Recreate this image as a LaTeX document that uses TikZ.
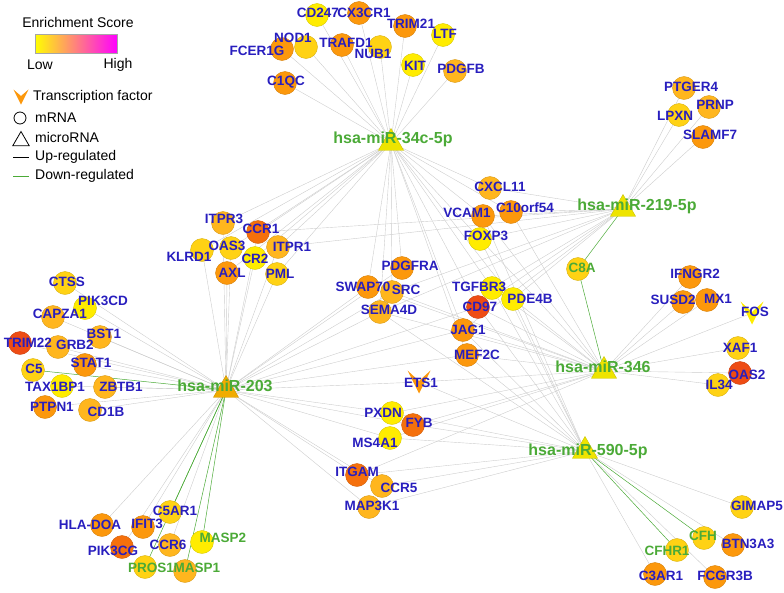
\documentclass[tikz,border=0pt]{standalone}
\usepackage{fontspec}
\setmainfont{Liberation Sans}
\definecolor{netblue}{RGB}{40,30,190}
\definecolor{netgreen}{RGB}{75,170,55}
\definecolor{netgray}{RGB}{205,205,205}
\definecolor{miryellow}{RGB}{238,228,0}
\definecolor{mirgold}{RGB}{240,172,0}
\definecolor{esyellow}{RGB}{255,236,0}
\definecolor{esgold}{RGB}{255,210,20}
\definecolor{eslight}{RGB}{255,182,30}
\definecolor{esorange}{RGB}{252,152,12}
\definecolor{esdark}{RGB}{245,112,12}
\definecolor{esred}{RGB}{238,76,20}
\usetikzlibrary{shapes.geometric,backgrounds,calc}

\begin{document}
\begin{tikzpicture}[x=1pt, y=-1pt,
    gene/.style={circle, minimum size=23pt, inner sep=0pt, fill=#1, draw=#1!85!black, line width=0.4pt},
    mirna/.style={regular polygon, regular polygon sides=3, minimum size=29pt, inner sep=0pt,
      fill=#1, draw=#1!85!black, line width=0.4pt},
    tfac/.style={minimum size=23pt, inner sep=0pt,
      path picture={\fill[#1] (path picture bounding box.north west)
        -- ($(path picture bounding box.center)+(0,-1)$) -- (path picture bounding box.north east)
        -- (path picture bounding box.south) -- cycle;}},
    gname/.style={font=\bfseries\fontsize{13.5}{14}\selectfont, text=netblue, inner sep=0pt},
    gdown/.style={gname, text=netgreen},
    mname/.style={font=\bfseries\fontsize{16}{17}\selectfont, text=netgreen, inner sep=0pt},
    legtext/.style={font=\fontsize{14}{15}\selectfont, anchor=west, inner sep=0pt},
    edge/.style={netgray, line width=0.4pt},
    downedge/.style={netgreen, line width=0.5pt}
  ]
    \useasboundingbox (0,0) rectangle (784,592);

    % Legend
    \node[legtext, anchor=center] (lscore) at (78,22) {Enrichment Score};
    \node[minimum width=82pt, minimum height=19pt, inner sep=0pt, left color=yellow, right color=magenta,
      draw=gray!70] (lbar) at (76,43.5) {};
    \node[legtext, anchor=center] (llow) at (40,65) {Low};
    \node[legtext, anchor=center] (lhigh) at (118,65) {High};
    \node[tfac=esorange, minimum size=15pt] (ltf) at (21,97) {};
    \node[legtext] (ltftext) at (33,97) {Transcription factor};
    \node[circle, draw, thick, minimum size=12pt, inner sep=0pt] (lmrna) at (20,118) {};
    \node[legtext] (lmrnatext) at (35,118) {mRNA};
    \node[regular polygon, regular polygon sides=3, draw, thick, minimum size=19pt, inner sep=0pt] (lmir) at (21,141) {};
    \node[legtext] (lmirtext) at (35,137) {microRNA};
    \node[legtext] (luptext) at (35,157) {Up-regulated};
    \draw[thick] ([xshift=-22]luptext.west) -- ([xshift=-6]luptext.west);
    \node[legtext] (ldowntext) at (35,176) {Down-regulated};
    \draw[thick, netgreen] ([xshift=-22]ldowntext.west) -- ([xshift=-6]ldowntext.west);

    % microRNAs
    \node[mirna=miryellow] (m34) at (391,143) {};
    \node[mirna=miryellow] (m219) at (623,209) {};
    \node[mirna=mirgold] (m203) at (226,390) {};
    \node[mirna=miryellow] (m346) at (604,371) {};
    \node[mirna=miryellow] (m590) at (585,451) {};

    % Top cluster
    \node[gene=esyellow] (cd247) at (317,15) {};
    \node[gene=esorange] (cx3cr1) at (359,13) {};
    \node[gene=esorange] (trim21) at (405,26) {};
    \node[gene=esyellow] (ltf) at (443,35) {};
    \node[gene=esorange] (fcer1g) at (282,49) {};
    \node[gene=esgold] (nod1) at (306,47) {};
    \node[gene=esorange] (trafd1) at (342,45) {};
    \node[gene=esgold] (nub1) at (380,47) {};
    \node[gene=esyellow] (kit) at (413,65) {};
    \node[gene=eslight] (pdgfb) at (455,71) {};
    \node[gene=esorange] (c1qc) at (285,83) {};

    % Upper right cluster
    \node[gene=eslight] (ptger4) at (684,88) {};
    \node[gene=eslight] (prnp) at (709,107) {};
    \node[gene=esgold] (lpxn) at (679,115) {};
    \node[gene=esorange] (slamf7) at (703,137) {};

    % Centre cluster
    \node[gene=eslight] (cxcl11) at (490,188) {};
    \node[gene=esorange] (c10orf54) at (511,212) {};
    \node[gene=esorange] (vcam1) at (483,216) {};
    \node[gene=esyellow] (foxp3) at (480,239) {};
    \node[gene=esyellow] (tgfbr3) at (492,288) {};
    \node[gene=esyellow] (pde4b) at (513,299) {};
    \node[gene=esred] (cd97) at (478,307) {};
    \node[gene=esorange] (jag1) at (463,330) {};
    \node[gene=esorange] (mef2c) at (467,355) {};
    \node[gene=esorange] (pdgfra) at (402,268) {};
    \node[gene=esorange] (swap70) at (368,287) {};
    \node[gene=eslight] (src) at (392,292) {};
    \node[gene=eslight] (sema4d) at (380,312) {};

    % Left middle cluster
    \node[gene=eslight] (itpr3) at (223,223) {};
    \node[gene=esdark] (ccr1) at (258,232) {};
    \node[gene=eslight] (itpr1) at (278,247) {};
    \node[gene=esgold] (klrd1) at (202,250) {};
    \node[gene=esgold] (oas3) at (231,248) {};
    \node[gene=esyellow] (cr2) at (255,258) {};
    \node[gene=esorange] (axl) at (227,273) {};
    \node[gene=esgold] (pml) at (277,274) {};

    % Far left cluster
    \node[gene=esgold] (ctss) at (65,283) {};
    \node[gene=esyellow] (pik3cd) at (85,308) {};
    \node[gene=eslight] (capza1) at (53,317) {};
    \node[gene=esred] (trim22) at (20,343) {};
    \node[gene=eslight] (bst1) at (100,337) {};
    \node[gene=eslight] (grb2) at (58,347) {};
    \node[gene=esorange] (stat1) at (85,365) {};
    \node[gene=esgold] (c5) at (33,370) {};
    \node[gene=esyellow] (tax1bp1) at (62,386) {};
    \node[gene=eslight] (zbtb1) at (105,387) {};
    \node[gene=esorange] (ptpn1) at (45,407) {};
    \node[gene=eslight] (cd1b) at (90,410) {};

    % Right cluster
    \node[gene=esgold] (c8a) at (578,269) {};
    \node[gene=esorange] (ifngr2) at (690,277) {};
    \node[gene=esorange] (susd2) at (683,302) {};
    \node[gene=esorange] (mx1) at (707,300) {};
    \node[tfac=esyellow] (fos) at (752,313) {};
    \node[gene=esgold] (xaf1) at (738,348) {};
    \node[gene=esred] (oas2) at (740,373) {};
    \node[gene=esgold] (il34) at (718,385) {};

    % Lower middle cluster
    \node[tfac=esorange] (ets1) at (419,382) {};
    \node[gene=esyellow] (pxdn) at (392,413) {};
    \node[gene=esdark] (fyb) at (413,425) {};
    \node[gene=esyellow] (ms4a1) at (390,438) {};
    \node[gene=esdark] (itgam) at (357,475) {};
    \node[gene=eslight] (ccr5) at (382,486) {};
    \node[gene=eslight] (map3k1) at (369,507) {};

    % Bottom left cluster
    \node[gene=esorange] (hladoa) at (102,525) {};
    \node[gene=esorange] (ifit3) at (143,527) {};
    \node[gene=esgold] (c5ar1) at (170,512) {};
    \node[gene=esdark] (pik3cg) at (122,547) {};
    \node[gene=eslight] (ccr6) at (170,545) {};
    \node[gene=esyellow] (masp2) at (202,542) {};
    \node[gene=esgold] (pros1) at (145,567) {};
    \node[gene=eslight] (masp1) at (185,571) {};

    % Bottom right cluster
    \node[gene=esgold] (gimap5) at (742,507) {};
    \node[gene=esgold] (cfh) at (704,538) {};
    \node[gene=esorange] (btn3a3) at (733,545) {};
    \node[gene=esgold] (cfhr1) at (677,550) {};
    \node[gene=esorange] (c3ar1) at (655,574) {};
    \node[gene=esorange] (fcgr3b) at (715,577) {};

    % Interactions
    \begin{scope}[on background layer]
      \foreach \g in {cd247,cx3cr1,trim21,ltf,nod1,fcer1g,trafd1,nub1,kit,pdgfb,c1qc,
          itpr3,ccr1,itpr1,oas3,klrd1,cr2,axl,pml,pdgfra,swap70,src,sema4d,
          cxcl11,vcam1,c10orf54,foxp3,tgfbr3,pde4b,cd97,jag1,mef2c}
        \draw[edge] (m34.center) -- (\g.center);
      \foreach \g in {ctss,pik3cd,capza1,trim22,grb2,bst1,stat1,tax1bp1,zbtb1,ptpn1,cd1b,
          klrd1,itpr3,oas3,axl,cr2,pml,ccr1,itpr1,hladoa,ifit3,pik3cg,ccr6,
          pdgfra,swap70,src,sema4d,cd97,jag1,mef2c,ets1,pxdn,fyb,ms4a1,itgam,ccr5,map3k1}
        \draw[edge] (m203.center) -- (\g.center);
      \foreach \g in {c5,c5ar1,masp2,pros1,masp1}
        \draw[downedge] (m203.center) -- (\g.center);
      \foreach \g in {ptger4,prnp,lpxn,slamf7,cxcl11,c10orf54,vcam1,foxp3,tgfbr3,pde4b,
          cd97,jag1,src,sema4d,itpr1,ccr1}
        \draw[edge] (m219.center) -- (\g.center);
      \foreach \g in {ifngr2,susd2,mx1,fos,xaf1,oas2,il34,pde4b,tgfbr3,cd97,jag1,mef2c,
          ets1,fyb,pxdn,ms4a1,itgam,sema4d,src,swap70,foxp3,vcam1,c10orf54}
        \draw[edge] (m346.center) -- (\g.center);
      \foreach \g in {gimap5,btn3a3,c3ar1,fcgr3b,itgam,ccr5,map3k1,fyb,ms4a1,pxdn,ets1,
          mef2c,jag1,cd97,sema4d,tgfbr3,pde4b,foxp3,vcam1}
        \draw[edge] (m590.center) -- (\g.center);
      \foreach \g in {cfh,cfhr1}
        \draw[downedge] (m590.center) -- (\g.center);
      \draw[downedge] (m219.center) -- (c8a.center);
      \draw[downedge] (m346.center) -- (c8a.center);
    \end{scope}

    % microRNA names
    \node[mname] (tm34) at (393,139) {hsa-miR-34c-5p};
    \node[mname] (tm219) at (637,206) {hsa-miR-219-5p};
    \node[mname] (tm203) at (225,386) {hsa-miR-203};
    \node[mname] (tm346) at (603,367) {hsa-miR-346};
    \node[mname] (tm590) at (588,451) {hsa-miR-590-5p};

    % Gene names
    \node[gname] (tcd247) at (318,13) {CD247};
    \node[gname] (tcx3cr1) at (364,13) {CX3CR1};
    \node[gname] (ttrim21) at (411,24) {TRIM21};
    \node[gname] (tltf) at (445,34) {LTF};
    \node[gname] (tnod1) at (293,38) {NOD1};
    \node[gname] (tfcer1g) at (257,51) {FCER1G};
    \node[gname] (ttrafd1) at (346,43) {TRAFD1};
    \node[gname] (tnub1) at (373,54) {NUB1};
    \node[gname] (tkit) at (415,66) {KIT};
    \node[gname] (tpdgfb) at (461,69) {PDGFB};
    \node[gname] (tc1qc) at (286,82) {C1QC};
    \node[gname] (tptger4) at (691,87) {PTGER4};
    \node[gname] (tprnp) at (715,105) {PRNP};
    \node[gname] (tlpxn) at (675,116) {LPXN};
    \node[gname] (tslamf7) at (710,135) {SLAMF7};
    \node[gname] (tcxcl11) at (500,187) {CXCL11};
    \node[gname] (tc10orf54) at (525,208) {C10orf54};
    \node[gname] (tvcam1) at (467,213) {VCAM1};
    \node[gname] (tfoxp3) at (486,236) {FOXP3};
    \node[gname] (ttgfbr3) at (479,287) {TGFBR3};
    \node[gname] (tpde4b) at (530,299) {PDE4B};
    \node[gname] (tcd97) at (480,307) {CD97};
    \node[gname] (tjag1) at (468,330) {JAG1};
    \node[gname] (tmef2c) at (477,355) {MEF2C};
    \node[gname] (tpdgfra) at (410,266) {PDGFRA};
    \node[gname] (tswap70) at (363,287) {SWAP70};
    \node[gname] (tsrc) at (406,290) {SRC};
    \node[gname] (tsema4d) at (389,310) {SEMA4D};
    \node[gname] (titpr3) at (224,219) {ITPR3};
    \node[gname] (tccr1) at (261,229) {CCR1};
    \node[gname] (titpr1) at (292,247) {ITPR1};
    \node[gname] (toas3) at (227,246) {OAS3};
    \node[gname] (tklrd1) at (189,257) {KLRD1};
    \node[gname] (tcr2) at (255,259) {CR2};
    \node[gname] (taxl) at (232,273) {AXL};
    \node[gname] (tpml) at (280,274) {PML};
    \node[gname] (tctss) at (67,282) {CTSS};
    \node[gname] (tpik3cd) at (103,301) {PIK3CD};
    \node[gname] (tcapza1) at (60,314) {CAPZA1};
    \node[gname] (ttrim22) at (28,343) {TRIM22};
    \node[gname] (tgrb2) at (75,345) {GRB2};
    \node[gname] (tbst1) at (104,334) {BST1};
    \node[gname] (tstat1) at (91,363) {STAT1};
    \node[gname] (tc5) at (34,369) {C5};
    \node[gname] (ttax1bp1) at (55,387) {TAX1BP1};
    \node[gname] (tzbtb1) at (121,387) {ZBTB1};
    \node[gname] (tptpn1) at (52,407) {PTPN1};
    \node[gname] (tcd1b) at (106,412) {CD1B};
    \node[gdown] (tc8a) at (582,268) {C8A};
    \node[gname] (tifngr2) at (695,274) {IFNGR2};
    \node[gname] (tsusd2) at (673,300) {SUSD2};
    \node[gname] (tmx1) at (718,299) {MX1};
    \node[gname] (tfos) at (755,312) {FOS};
    \node[gname] (txaf1) at (740,348) {XAF1};
    \node[gname] (toas2) at (747,375) {OAS2};
    \node[gname] (til34) at (719,385) {IL34};
    \node[gname] (tets1) at (421,383) {ETS1};
    \node[gname] (tpxdn) at (383,413) {PXDN};
    \node[gname] (tfyb) at (419,423) {FYB};
    \node[gname] (tms4a1) at (375,443) {MS4A1};
    \node[gname] (titgam) at (357,472) {ITGAM};
    \node[gname] (tccr5) at (399,488) {CCR5};
    \node[gname] (tmap3k1) at (372,506) {MAP3K1};
    \node[gname] (thladoa) at (90,525) {HLA-DOA};
    \node[gname] (tifit3) at (147,524) {IFIT3};
    \node[gname] (tc5ar1) at (175,511) {C5AR1};
    \node[gname] (tpik3cg) at (113,551) {PIK3CG};
    \node[gname] (tccr6) at (168,545) {CCR6};
    \node[gdown] (tmasp2) at (223,538) {MASP2};
    \node[gdown] (tpros1) at (151,568) {PROS1};
    \node[gdown] (tmasp1) at (197,568) {MASP1};
    \node[gname] (tgimap5) at (757,506) {GIMAP5};
    \node[gdown] (tcfh) at (703,536) {CFH};
    \node[gname] (tbtn3a3) at (748,544) {BTN3A3};
    \node[gdown] (tcfhr1) at (667,551) {CFHR1};
    \node[gname] (tc3ar1) at (661,576) {C3AR1};
    \node[gname] (tfcgr3b) at (725,576) {FCGR3B};
  \end{tikzpicture}
\end{document}
